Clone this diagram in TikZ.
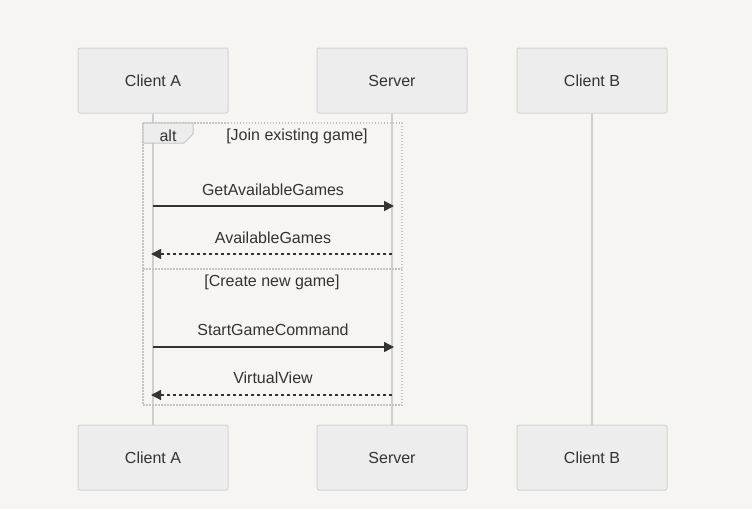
\documentclass[tikz,border=0pt]{standalone}
\usepackage{fontspec}
\setmainfont{Liberation Sans}
\usetikzlibrary{arrows.meta,calc}
\definecolor{bg}{HTML}{F6F5F2}
\definecolor{boxfill}{HTML}{EDEDED}
\definecolor{boxline}{HTML}{D4D4D4}
\definecolor{life}{HTML}{CFCFCF}
\definecolor{ink}{HTML}{333333}
\definecolor{frameline}{HTML}{C4C4C4}
\begin{document}
\begin{tikzpicture}[x=1pt,y=-1pt,
  actor/.style={draw=boxline,fill=boxfill,rounded corners=2pt,line width=1pt,minimum width=150pt,minimum height=65pt,inner sep=0pt,font=\fontsize{16}{19}\selectfont,text=ink},
  lifeline/.style={draw=life,line width=2pt},
  msg/.style={draw=ink,line width=1.5pt,-{Triangle[length=10pt,width=10pt]}},
  reply/.style={msg,dash pattern=on 3pt off 3pt},
  lbl/.style={font=\fontsize{16}{19}\selectfont,text=ink,inner sep=0pt},
  frm/.style={draw=frameline,line width=1.2pt,dash pattern=on 1.5pt off 1.5pt}]
\fill[bg] (0,0) rectangle (752,509);
\useasboundingbox (0,0) rectangle (752,509);
% actors
\node[actor] (ca) at (153,80.5) {Client A};
\node[actor] (sv) at (392,80.5) {Server};
\node[actor] (cb) at (592,80.5) {Client B};
\node[actor] (ca2) at (153,457.5) {Client A};
\node[actor] (sv2) at (392,457.5) {Server};
\node[actor] (cb2) at (592,457.5) {Client B};
% lifelines
\draw[lifeline] (ca.south) -- (ca2.north);
\draw[lifeline] (sv.south) -- (sv2.north);
\draw[lifeline] (cb.south) -- (cb2.north);
% alt frame
\draw[frm] (143,123) rectangle (402,405);
\draw[frm] (143,269) -- (402,269);
\draw[draw=frameline,fill=boxfill,line width=1pt] (143,123) -- (193,123) -- (193,134) -- (184,143) -- (143,143) -- cycle;
\node[lbl] (alt) at (168,135.5) {alt};
\node[lbl] (g1) at (297,136.5) {[Join existing game]};
\node[lbl] (g2) at (272,282.5) {[Create new game]};
% message coordinates
\coordinate (a1) at (153,206); \coordinate (s1) at (394,206);
\coordinate (s2) at (392,254); \coordinate (a2) at (151,254);
\coordinate (a3) at (153,347); \coordinate (s3) at (394,347);
\coordinate (s4) at (392,395); \coordinate (a4) at (151,395);
\draw[msg] (a1) -- (s1);
\node[lbl] (m1) at (273,189.5) {GetAvailableGames};
\draw[reply] (s2) -- (a2);
\node[lbl] (m2) at (273,237.5) {AvailableGames};
\draw[msg] (a3) -- (s3);
\node[lbl] (m3) at (273,330) {StartGameCommand};
\draw[reply] (s4) -- (a4);
\node[lbl] (m4) at (273,378) {VirtualView};
\end{tikzpicture}
\end{document}
